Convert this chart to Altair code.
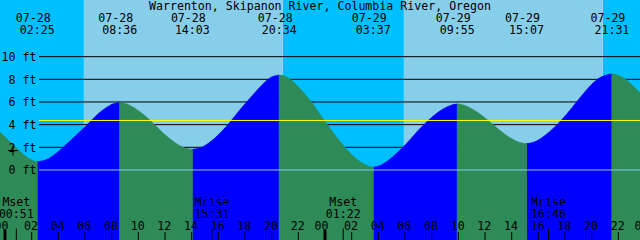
import altair as alt
import pandas as pd

# ---------------- data ----------------
TITLE = "Warrenton, Skipanon River, Columbia River, Oregon"
DAYS = ["07-28", "07-29"]

# tide extremes (labels + heights, ft)
ext_date = ["07-28", "07-28", "07-28", "07-28", "07-29", "07-29", "07-29", "07-29"]
ext_time = ["02:25", "08:36", "14:03", "20:34", "03:37", "09:55", "15:07", "21:31"]
ext_ft = [0.73, 5.94, 1.82, 8.38, 0.24, 5.82, 2.32, 8.47]

# curve at the window edges (hours since 07-28 00:00, ft)
start_h, start_ft = -0.375, 3.33
end_h, end_ft = 47.625, 6.8

# intermediate curve readings between consecutive extremes
mid_h = [
    [0.375, 1.125, 2.0],
    [2.82, 3.375, 4.375, 5.25, 6.17, 7.125, 7.875, 8.2],
    [9.0, 9.6, 10.65, 11.625, 12.375, 13.25, 13.65],
    [14.45, 14.875, 15.75, 16.75, 17.4, 18.125, 19.625, 20.17],
    [20.97, 21.5, 22.875, 23.625, 24.15, 25.425, 26.475, 27.22],
    [28.02, 28.725, 29.875, 30.625, 31.375, 32.625, 33.52],
    [34.32, 34.875, 35.625, 36.6, 37.5, 38.25, 38.72],
    [39.52, 40.125, 41.5, 42.875, 44.25, 45.12],
    [45.92, 46.625],
]
mid_ft = [
    [2.5, 1.6, 0.8],
    [0.78, 1.0, 2.0, 2.95, 4.0, 5.15, 5.72, 5.89],
    [5.89, 5.6, 4.68, 3.5, 2.7, 2.0, 1.87],
    [1.88, 2.02, 2.75, 4.0, 5.0, 6.0, 8.0, 8.31],
    [8.32, 8.0, 6.2, 4.9, 4.0, 2.0, 0.8, 0.30],
    [0.30, 0.75, 2.0, 3.0, 4.0, 5.3, 5.77],
    [5.77, 5.5, 4.97, 4.0, 3.1, 2.56, 2.37],
    [2.38, 2.65, 4.0, 6.0, 8.0, 8.41],
    [8.41, 8.0],
]

# moon events
moon_event = ["Mset", "Mrise", "Mset", "Mrise"]
moon_date = ["07-28", "07-28", "07-29", "07-29"]
moon_time = ["00:51", "15:31", "01:22", "16:46"]

# sun
sun_date = ["07-28", "07-28", "07-29", "07-29"]
sun_time = ["05:55", "20:50", "05:55", "20:50"]

# axes
grid_ft = [2, 4, 6, 8, 10]
label_ft = [0, 2, 4, 6, 8, 10]
mean_ft = 4.37
hour_ticks = list(range(0, 49, 2))

FT_MIN, FT_MAX = -6.18, 15.0
FONT = "DejaVu Sans Mono"
FS = 11.6


def to_h(d, t):
    hh, mm = t.split(":")
    return DAYS.index(d) * 24 + int(hh) + int(mm) / 60.0


ext_h = [to_h(d, t) for d, t in zip(ext_date, ext_time)]

# build curve segments
nodes_h = [start_h] + ext_h + [end_h]
nodes_ft = [start_ft] + ext_ft + [end_ft]
rows = []
for i in range(len(nodes_h) - 1):
    hs = [nodes_h[i]] + mid_h[i] + [nodes_h[i + 1]]
    fs = [nodes_ft[i]] + mid_ft[i] + [nodes_ft[i + 1]]
    d = "rise" if fs[-1] > fs[0] else "fall"
    for h, f in zip(hs, fs):
        rows.append({"seg": i, "dir": d, "h": h, "ft": f})
curve = pd.DataFrame(rows)

sun_h = [to_h(d, t) for d, t in zip(sun_date, sun_time)]
edges = [start_h] + sun_h + [end_h]
bg = pd.DataFrame({
    "start": edges[:-1],
    "end": edges[1:],
    "kind": ["night", "day", "night", "day", "night"],
})

ext_df = pd.DataFrame({"h": ext_h, "date": ext_date, "time": ext_time})
moon_df = pd.DataFrame({
    "h": [to_h(d, t) for d, t in zip(moon_date, moon_time)],
    "event": moon_event,
    "time": moon_time,
})
hour_df = pd.DataFrame({
    "h": hour_ticks,
    "label": ["%02d" % (h % 24) for h in hour_ticks],
    "midnight": [h % 24 == 0 for h in hour_ticks],
})
ylab_df = pd.DataFrame({"ft": label_ft, "label": ["%d ft" % v for v in label_ft]})

# ---------------- chart ----------------
xs = alt.Scale(domain=[start_h, end_h], nice=False, zero=False)
ys = alt.Scale(domain=[FT_MIN, FT_MAX], nice=False, zero=False)
X = lambda f: alt.X(f, type="quantitative", scale=xs, axis=None)
Y = lambda f: alt.Y(f, type="quantitative", scale=ys, axis=None)

night = alt.Chart(bg).transform_filter("datum.kind == 'night'").mark_rect(color="#00BFFF").encode(
    x=X("start"), x2="end", y=alt.value(0), y2=alt.value(240))
day = alt.Chart(bg).transform_filter("datum.kind == 'day'").mark_rect(color="#87CEEB").encode(
    x=X("start"), x2="end", y=alt.value(0), y2=alt.value(240))

grid = alt.Chart(pd.DataFrame({"ft": grid_ft})).mark_rule(color="black", strokeWidth=1).encode(
    y=Y("ft"), x=alt.value(39), x2=alt.value(640))

def area(direction, col):
    return alt.Chart(curve).transform_filter(f"datum.dir == '{direction}'").mark_area(
        interpolate="basis", color=col, stroke=col, strokeWidth=0.8
    ).encode(x=X("h"), y=Y("ft"), y2=alt.datum(FT_MIN), detail="seg:N")

rise = area("rise", "#0000FF")
fall = area("fall", "#2E8B57")

zero = alt.Chart(pd.DataFrame({"ft": [0]})).mark_rule(color="#87CEEB", strokeWidth=1).encode(
    y=Y("ft"), x=alt.value(39), x2=alt.value(640))
mean = alt.Chart(pd.DataFrame({"ft": [mean_ft]})).mark_rule(color="#FFFF00", strokeWidth=1).encode(
    y=Y("ft"), x=alt.value(39), x2=alt.value(640))

txt = dict(font=FONT, fontSize=FS, color="black", baseline="alphabetic")

title = alt.Chart(pd.DataFrame({"t": [TITLE]})).mark_text(align="center", **txt).encode(
    text="t:N", x=alt.value(320), y=alt.value(10))
ext_dates = alt.Chart(ext_df).mark_text(align="center", dx=-4, **txt).encode(
    text="date:N", x=X("h"), y=alt.value(22))
ext_times = alt.Chart(ext_df).mark_text(align="center", **txt).encode(
    text="time:N", x=X("h"), y=alt.value(34))
ylabels = alt.Chart(ylab_df).mark_text(align="right", dy=4.3, **txt).encode(
    text="label:N", x=alt.value(36.5), y=Y("ft"))
cross = alt.Chart(pd.DataFrame({"a": [1]})).mark_point(
    shape="M-1,0L1,0M0,-1L0,1", size=100, filled=False, color="black", strokeWidth=1, opacity=1
).encode(x=alt.value(13), y=alt.value(150.5))

moon_names = alt.Chart(moon_df).mark_text(align="center", **txt).encode(
    text="event:N", x=X("h"), y=alt.value(206))
moon_times = alt.Chart(moon_df).mark_text(align="center", **txt).encode(
    text="time:N", x=X("h"), y=alt.value(218))
moon_ticks = alt.Chart(moon_df).mark_rule(color="black", strokeWidth=1).encode(
    x=X("h"), y=alt.value(228.5), y2=alt.value(240))

hour_lab = alt.Chart(hour_df).transform_filter("!datum.midnight").mark_text(align="center", dx=-0.7, **txt).encode(
    text="label:N", x=X("h"), y=alt.value(230))
hour_lab0 = alt.Chart(hour_df).transform_filter("datum.midnight").mark_text(align="center", dx=-3.5, **txt).encode(
    text="label:N", x=X("h"), y=alt.value(230))
hour_tk = alt.Chart(hour_df).transform_filter("!datum.midnight").mark_rule(color="black", strokeWidth=1).encode(
    x=X("h"), y=alt.value(232), y2=alt.value(240))
hour_tk0 = alt.Chart(hour_df).transform_filter("datum.midnight").mark_rule(color="black", strokeWidth=3).encode(
    x=X("h"), y=alt.value(230), y2=alt.value(240))

chart = alt.layer(
    night, day, grid, rise, fall, zero, mean,
    title, ext_dates, ext_times, ylabels, cross,
    moon_names, moon_times, moon_ticks,
    hour_lab, hour_lab0, hour_tk, hour_tk0,
).properties(
    width=640, height=240, padding=0, autosize=alt.AutoSizeParams(type="none")
).configure_view(stroke=None)

chart.save("out.html", embed_options={"renderer": "svg", "actions": False})
